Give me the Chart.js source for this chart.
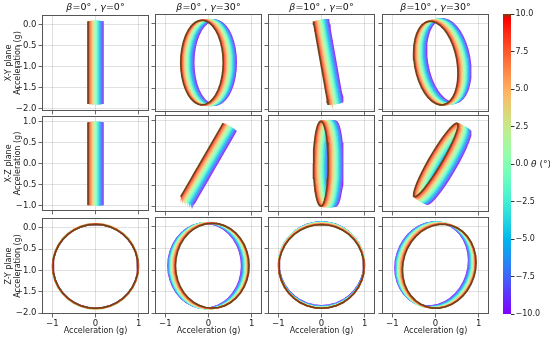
<!DOCTYPE html>
<html>
<head>
<meta charset="utf-8">
<script src="https://cdn.jsdelivr.net/npm/chart.js@4.4.1/dist/chart.umd.min.js"></script>
<style>
  body { margin: 0; width: 550px; height: 338px; position: relative; overflow: hidden; background: #fff; font-family: "DejaVu Sans", sans-serif; }
  canvas { position: absolute; }
  .ttl { position: absolute; top: 1px; font-size: 9.5px; text-align: center; white-space: nowrap; color: #111; }
  .cbl { position: absolute; left: 531px; top: 159px; font-size: 9px; color: #111; white-space: nowrap; }
</style>
</head>
<body>
<script>
// tilt of the sensor for each column
const betaDeg = [0, 0, 10, 10];
const gammaDeg = [0, 30, 0, 30];
// misalignment angle, one curve per value (colour axis)
const thetaDeg = [-10, -9, -8, -7, -6, -5, -4, -3, -2, -1, 0, 1, 2, 3, 4, 5, 6, 7, 8, 9, 10];
// rotation angle sampled round the circle
const phiDeg = [0, 10, 20, 30, 40, 50, 60, 70, 80, 90, 100, 110, 120, 130, 140, 150, 160, 170, 180,
                190, 200, 210, 220, 230, 240, 250, 260, 270, 280, 290, 300, 310, 320, 330, 340, 350, 360];
const yOffset = -0.9;   // centre of the circle on the Y axis (g)
const planes = ['X-Y', 'X-Z', 'Z-Y'];
const xTicks = [-1, 0, 1];
const yTicks = [[0, -0.5, -1, -1.5, -2], [1, 0.5, 0, -0.5, -1], [0, -0.5, -1, -1.5, -2]];
const cbarTicks = [10, 7.5, 5, 2.5, 0, -2.5, -5, -7.5, -10];

Chart.defaults.font.family = '"DejaVu Sans", sans-serif';
Chart.defaults.color = '#222';

const rad = d => d * Math.PI / 180;
const fmt1 = v => v.toFixed(1).replace('-', '\u2212');
const fmt0 = v => String(v).replace('-', '\u2212');

// matplotlib "rainbow"
function rainbowRGB(f) {
  const r = Math.min(1, Math.abs(2 * f - 0.5));
  const g = Math.sin(Math.PI * f);
  const b = Math.max(0, Math.cos(Math.PI * f / 2));
  return [r * 255, g * 255, b * 255].map(Math.round);
}
const rainbow = f => `rgb(${rainbowRGB(f).join(',')})`;
const topColor = '#6e4416';
function thetaColor(t) {
  if (t >= 10) return topColor;
  // slightly washed, like the reference ribbons
  const [r, g, b] = rainbowRGB((t + 10) / 20);
  const k = 0.82;
  return `rgb(${Math.round(r * k + 255 * (1 - k))},${Math.round(g * k + 255 * (1 - k))},${Math.round(b * k + 255 * (1 - k))})`;
}

// acceleration vector for one theta / phi, tilted by gamma (about Y) then beta (about Z)
function accel(t, p, beta, gamma) {
  const x = -Math.sin(rad(t));
  const y = yOffset + Math.cos(rad(t)) * Math.cos(rad(p));
  const z = Math.cos(rad(t)) * Math.sin(rad(p));
  const cg = Math.cos(rad(gamma)), sg = Math.sin(rad(gamma));
  const x1 = x * cg + z * sg, z1 = -x * sg + z * cg;
  const cb = Math.cos(rad(beta)), sb = Math.sin(rad(beta));
  return { x: x1 * cb - y * sb, y: x1 * sb + y * cb, z: z1 };
}

// layout of the grid of panels (page pixels)
const lefts = [42, 155, 268, 382];
const tops = [14, 115, 217];
const heights = [98, 97, 97];
const W = 107;
const xRange = [-1.24, 1.24];
const yRanges = [[-2.05, 0.23], [-1.12, 1.13], [-2.02, 0.23]];

const framePlugin = {
  id: 'frame',
  afterDraw(chart) {
    const a = chart.chartArea, c = chart.ctx;
    c.save();
    c.strokeStyle = '#555';
    c.lineWidth = 1;
    c.strokeRect(Math.round(a.left) + 0.5, Math.round(a.top) + 0.5, Math.round(a.right - a.left) - 1, Math.round(a.bottom - a.top) - 1);
    c.restore();
  }
};

function addCanvas(left, top, w, h) {
  const cv = document.createElement('canvas');
  cv.width = w; cv.height = h;
  cv.style.left = left + 'px'; cv.style.top = top + 'px';
  cv.style.width = w + 'px'; cv.style.height = h + 'px';
  document.body.appendChild(cv);
  return cv;
}

for (let r = 0; r < 3; r++) {
  for (let c = 0; c < 4; c++) {
    const L = lefts[c], T = tops[r], H = heights[r];
    const mL = c === 0 ? L : 5, mT = 6, mR = 4;
    const mB = r === 2 ? 338 - (T + H) : 6;
    const cv = addCanvas(L - mL, T - mT, mL + W + mR, mT + H + mB);

    const datasets = thetaDeg.slice().reverse().map(t => ({
      data: phiDeg.map(p => {
        const a = accel(t, p, betaDeg[c], gammaDeg[c]);
        if (r === 0) return { x: a.x, y: a.y };
        if (r === 1) return { x: a.x, y: a.z };
        return { x: a.z, y: a.y };
      }),
      borderColor: thetaColor(t),
      borderWidth: t >= 10 ? 1.7 : 1.5,
      showLine: true,
      pointRadius: 0,
      tension: 0
    }));

    new Chart(cv, {
      type: 'scatter',
      data: { datasets },
      plugins: [framePlugin],
      options: {
        responsive: false,
        animation: false,
        events: [],
        layout: { padding: { top: mT, right: mR, left: 0, bottom: 0 } },
        plugins: { legend: { display: false }, tooltip: { enabled: false } },
        scales: {
          x: {
            type: 'linear', min: xRange[0], max: xRange[1],
            afterBuildTicks: s => { s.ticks = xTicks.map(v => ({ value: v })); },
            afterFit: s => { s.height = mB; },
            ticks: { display: r === 2, font: { size: 8.5 }, padding: 1, callback: v => fmt0(v) },
            grid: { color: 'rgba(0,0,0,0.15)', lineWidth: 0.8, tickLength: 3.5, tickColor: '#444' },
            border: { display: false },
            title: { display: r === 2, text: 'Acceleration (g)', font: { size: 8 }, padding: { top: 0, bottom: 2 } }
          },
          y: {
            type: 'linear', min: yRanges[r][0], max: yRanges[r][1],
            afterBuildTicks: s => { s.ticks = yTicks[r].map(v => ({ value: v })); },
            afterFit: s => { s.width = mL; },
            ticks: { display: c === 0, font: { size: 8.5 }, padding: 2, callback: v => fmt1(v) },
            grid: { color: 'rgba(0,0,0,0.15)', lineWidth: 0.8, tickLength: 3.5, tickColor: '#444' },
            border: { display: false },
            title: { display: c === 0, text: [planes[r] + ' plane', 'Acceleration (g)'], font: { size: 8, lineHeight: 1.05 }, padding: { top: 5, bottom: 0 } }
          }
        }
      }
    });

    if (r === 0) {
      const d = document.createElement('div');
      d.className = 'ttl';
      d.style.left = L + 'px';
      d.style.width = W + 'px';
      d.innerHTML = `<i>\u03b2</i>=${betaDeg[c]}\u00b0 , <i>\u03b3</i>=${gammaDeg[c]}\u00b0`;
      document.body.appendChild(d);
    }
  }
}

// colour bar
const cbCanvas = addCanvas(500, 8, 50, 312);
new Chart(cbCanvas, {
  type: 'bar',
  data: {
    labels: [''],
    datasets: [{
      data: [[thetaDeg[0], thetaDeg[thetaDeg.length - 1]]],
      barPercentage: 1,
      categoryPercentage: 1,
      borderWidth: 0,
      backgroundColor: ctx => {
        const ch = ctx.chart, a = ch.chartArea;
        if (!a) return '#888';
        const g = ch.ctx.createLinearGradient(0, a.bottom, 0, a.top);
        for (let i = 0; i <= 40; i++) g.addColorStop(i / 40 * 0.985, rainbow(i / 40));
        g.addColorStop(1, topColor);
        return g;
      }
    }]
  },
  options: {
    responsive: false,
    animation: false,
    events: [],
    layout: { padding: { top: 6, left: 3, right: 0, bottom: 6 } },
    plugins: { legend: { display: false }, tooltip: { enabled: false } },
    scales: {
      x: { display: false },
      y: {
        position: 'right', min: -10, max: 10,
        afterBuildTicks: s => { s.ticks = cbarTicks.map(v => ({ value: v })); },
        afterFit: s => { s.width = 39; },
        ticks: { font: { size: 8 }, padding: 1, callback: v => fmt1(v) },
        grid: { drawOnChartArea: false, tickLength: 3.5, tickColor: '#333' },
        border: { display: false }
      }
    }
  }
});

const lab = document.createElement('div');
lab.className = 'cbl';
lab.innerHTML = '<i>\u03b8</i> (\u00b0)';
document.body.appendChild(lab);
</script>
</body>
</html>
